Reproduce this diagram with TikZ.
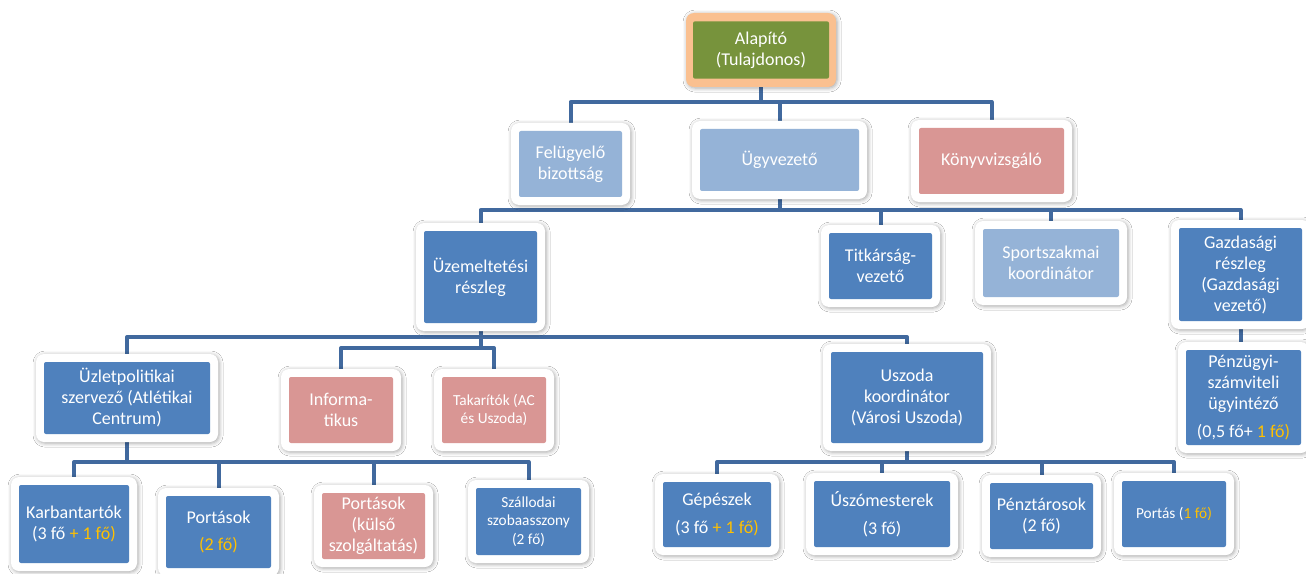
\documentclass[tikz,border=0pt]{standalone}
\usepackage{fontspec}
\setmainfont{Carlito}
\usetikzlibrary{backgrounds,shadows.blur}
\definecolor{dblue}{HTML}{4F81BD}
\definecolor{lblue}{HTML}{95B3D7}
\definecolor{pinkc}{HTML}{D99694}
\definecolor{greenc}{HTML}{77933C}
\definecolor{orangec}{HTML}{FAC090}
\definecolor{linec}{HTML}{41699E}
\definecolor{ylw}{HTML}{FFC000}
\newcommand\yl[1]{\textcolor{ylw}{#1}}
\newcommand\obox[8]{%
  \pgfmathsetmacro\obw{(#4-#2)*0.75}%
  \pgfmathsetmacro\obh{(#5-#3)*0.75}%
  \pgfmathsetmacro\obfw{\obw+12}%
  \pgfmathsetmacro\obfh{\obh+12}%
  \node[frame, minimum width=\obfw pt, minimum height=\obfh pt] (#1f) at ({(#2+#4)/2},{(#3+#5)/2}) {};
  \node[innerbox, fill=#6, minimum width=\obw pt, minimum height=\obh pt, #7] (#1) at ({(#2+#4)/2},{(#3+#5)/2}) {#8};
}
\tikzset{
  frame/.style={fill=white, rounded corners=6pt, inner sep=0pt,
    blur shadow={shadow xshift=0.8pt, shadow yshift=-0.8pt, shadow opacity=35, shadow blur radius=3pt}},
  innerbox/.style={rounded corners=1.5pt, inner sep=0pt, align=center, text=white,
    font=\fontsize{13.5}{15.75}\selectfont},
  small/.style={font=\fontsize{11.5}{14}\selectfont},
  conn/.style={draw=linec, line width=3pt, line join=round},
}
\begin{document}
\begin{tikzpicture}[x=0.75pt,y=-0.75pt]
\useasboundingbox (0,0) rectangle (1306,574);
% root
\node[frame, fill=orangec, minimum width=112.5pt, minimum height=55.5pt] (alapf) at (761,50) {};
\node[innerbox, fill=greenc, minimum width=102pt, minimum height=43pt] (alap) at (761,50) {Alapító\\(Tulajdonos)};
% level 1
\obox{fel}{519}{131}{622}{197}{lblue}{}{Felügyelő\\bizottság}
\obox{ugy}{700}{129}{859}{191}{lblue}{}{Ügyvezető}
\obox{konyv}{919}{128}{1064}{194}{pinkc}{}{Könyvvizsgáló}
% level 2
\obox{uzem}{424}{231}{537}{323}{dblue}{}{Üzemeltetési\\részleg}
\obox{titk}{829}{233}{932}{299}{dblue}{}{Titkárság-\\vezető}
\obox{sport}{983}{229}{1119}{297}{lblue}{}{Sportszakmai\\koordinátor}
\obox{gazd}{1179}{228}{1302}{321}{dblue}{}{Gazdasági\\részleg\\(Gazdasági\\vezető)}
\obox{penz}{1186}{350}{1301}{445}{dblue}{}{Pénzügyi-\\számviteli\\ügyintéző\\[5pt](0,5 fő+ \yl{1 fő)}}
% level 3
\obox{uzlet}{44}{362}{210}{434}{dblue}{}{Üzletpolitikai\\szervező (Atlétikai\\Centrum)}
\obox{info}{289}{377}{393}{443}{pinkc}{}{Informa-\\tikus}
\obox{takar}{442}{377}{546}{443}{pinkc}{small}{Takarítók (AC\\és Uszoda)}
\obox{uszoda}{831}{352}{983}{443}{dblue}{}{Uszoda\\koordinátor\\(Városi Uszoda)}
% level 4
\obox{karb}{19}{485}{129}{563}{dblue}{}{Karbantartók\\(3 fő \yl{+ 1 fő)}}
\obox{porta}{166}{496}{271}{568}{dblue}{}{Portások\\[5pt]\yl{(2 fő)}}
\obox{portb}{322}{493}{425}{559}{pinkc}{}{Portások\\(külső\\szolgáltatás)}
\obox{szall}{476}{488}{581}{555}{dblue}{small}{Szállodai\\szobaasszony\\(2 fő)}
\obox{gep}{663}{482}{771}{547}{dblue}{}{Gépészek\\[5pt](3 fő \yl{+ 1 fő)}}
\obox{uszo}{814}{481}{950}{547}{dblue}{}{Úszómesterek\\[5pt](3 fő)}
\obox{penzt}{990}{483}{1093}{549}{dblue}{}{Pénztárosok\\(2 fő)}
\obox{portc}{1122}{481}{1226}{547}{dblue}{small}{Portás (\yl{1 fő)}}
% bus levels
\coordinate (y1) at (0,102);
\coordinate (y2) at (0,210);
\coordinate (y3) at (0,337);
\coordinate (y3b) at (0,348);
\coordinate (y4) at (0,462);
\coordinate (y5) at (0,462);
\begin{scope}[on background layer]
\fill[white] (-10,-10) rectangle (1320,590);
\draw[conn] (alap.south) -- (alap.south |- y1) -| (fel.north);
\draw[conn] (alap.south |- y1) -| (ugy.north);
\draw[conn] (alap.south |- y1) -| (konyv.north);
\draw[conn] (ugy.south) -- (ugy.south |- y2) -| (uzem.north);
\draw[conn] (ugy.south |- y2) -| (titk.north);
\draw[conn] (ugy.south |- y2) -| (sport.north);
\draw[conn] (ugy.south |- y2) -| (gazd.north);
\draw[conn] (gazd.south) -- (gazd.south |- penz.north);
\draw[conn] (uzem.south) -- (uzem.south |- y3) -| (uzlet.north);
\draw[conn] (uzem.south |- y3) -| (uszoda.north);
\draw[conn] (uzem.south) -- (uzem.south |- y3b) -| (info.north);
\draw[conn] (uzem.south |- y3b) -| (takar.north);
\draw[conn] (uzlet.south) -- (uzlet.south |- y4) -| (karb.north);
\draw[conn] (uzlet.south |- y4) -| (porta.north);
\draw[conn] (uzlet.south |- y4) -| (portb.north);
\draw[conn] (uzlet.south |- y4) -| (szall.north);
\draw[conn] (uszoda.south) -- (uszoda.south |- y5) -| (gep.north);
\draw[conn] (uszoda.south |- y5) -| (uszo.north);
\draw[conn] (uszoda.south |- y5) -| (penzt.north);
\draw[conn] (uszoda.south |- y5) -| (portc.north);
\end{scope}
\end{tikzpicture}
\end{document}
